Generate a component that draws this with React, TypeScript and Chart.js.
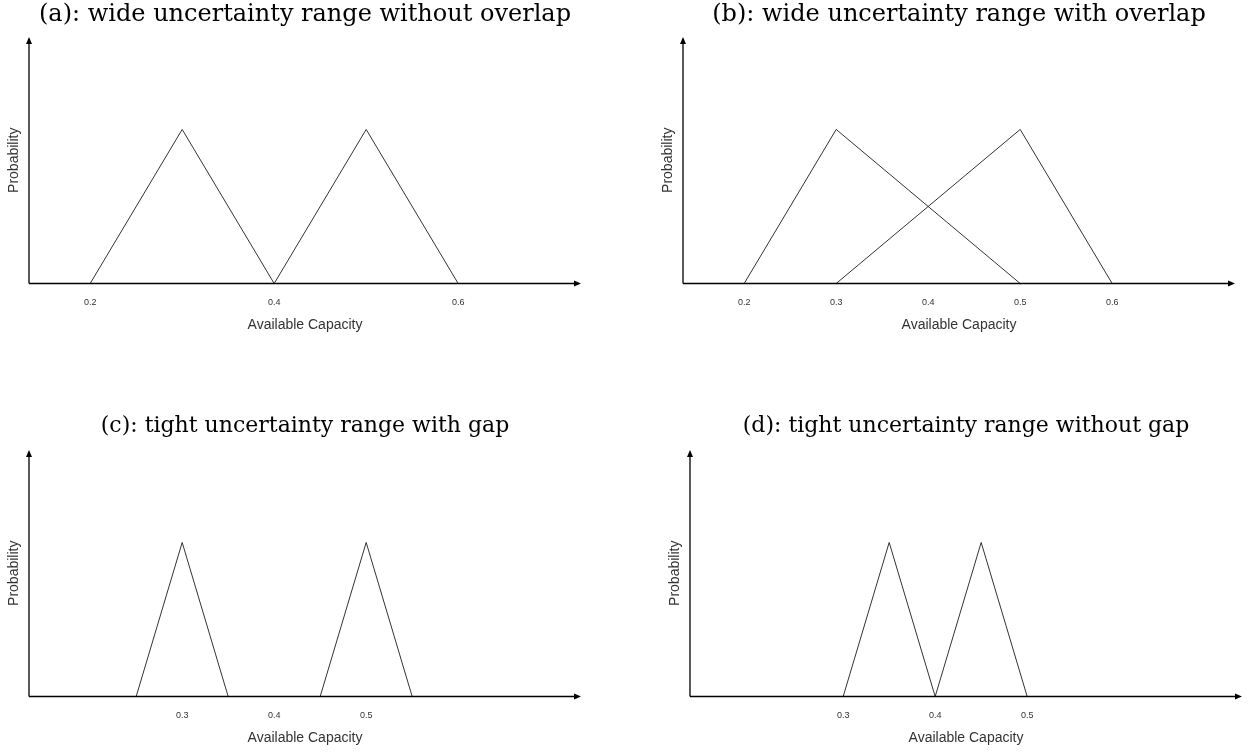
import React, { useEffect, useRef } from "react";
import { Chart, registerables } from "chart.js";

Chart.register(...registerables);

// ---- data ----
const xMin = 0.1335;
const xMax = 0.7335;
const yMax = 1.6;

const titleA = "(a): wide uncertainty range without overlap";
const titleB = "(b): wide uncertainty range with overlap";
const titleC = "(c): tight uncertainty range with gap";
const titleD = "(d): tight uncertainty range without gap";

const aFirstX = [0.2, 0.3, 0.4];
const aSecondX = [0.4, 0.5, 0.6];
const bFirstX = [0.2, 0.3, 0.5];
const bSecondX = [0.3, 0.5, 0.6];
const cFirstX = [0.25, 0.3, 0.35];
const cSecondX = [0.45, 0.5, 0.55];
const dFirstX = [0.3, 0.35, 0.4];
const dSecondX = [0.4, 0.45, 0.5];
const triangleY = [0, 1, 0];

const aTicks = [0.2, 0.4, 0.6];
const bTicks = [0.2, 0.3, 0.4, 0.5, 0.6];
const cTicks = [0.3, 0.4, 0.5];
const dTicks = [0.3, 0.4, 0.5];

const xLabel = "Available Capacity";
const yLabel = "Probability";

// ---- layout ----
const CW = 600;
const CH = 340;
const Y_AXIS_W = 29;
const PLOT_W = 552;
const X_AXIS_H = 56.5;
const PLOT_TOP = 37;

const SANS = "'Liberation Sans', Arial, sans-serif";

const arrowAxes = {
  id: "arrowAxes",
  afterDatasetsDraw(chart: any) {
    const { ctx, chartArea } = chart;
    const y0 = chart.scales.y.getPixelForValue(0);
    const left = chartArea.left;
    const right = chartArea.right;
    const top = chartArea.top;
    ctx.save();
    ctx.strokeStyle = "#000";
    ctx.fillStyle = "#000";
    ctx.lineWidth = 1.3;
    ctx.beginPath();
    ctx.moveTo(left, y0);
    ctx.lineTo(right - 4, y0);
    ctx.moveTo(left, y0);
    ctx.lineTo(left, top + 4);
    ctx.stroke();
    ctx.beginPath();
    ctx.moveTo(right, y0);
    ctx.lineTo(right - 7, y0 - 3);
    ctx.lineTo(right - 7, y0 + 3);
    ctx.closePath();
    ctx.fill();
    ctx.beginPath();
    ctx.moveTo(left, top);
    ctx.lineTo(left - 3, top + 7);
    ctx.lineTo(left + 3, top + 7);
    ctx.closePath();
    ctx.fill();
    ctx.restore();
  },
};

type PanelProps = {
  title: string;
  titleSize: number;
  firstX: number[];
  secondX: number[];
  ticks: number[];
  left: number;
  top: number;
};

function Panel({ title, titleSize, firstX, secondX, ticks, left, top }: PanelProps) {
  const ref = useRef<HTMLCanvasElement | null>(null);
  useEffect(() => {
    if (!ref.current) return;
    const mk = (xs: number[]) => xs.map((x, i) => ({ x, y: triangleY[i] }));
    const ds = (xs: number[]) => ({
      data: mk(xs),
      borderColor: "#333",
      borderWidth: 1,
      pointRadius: 0,
      tension: 0,
      fill: false,
      clip: false as any,
    });
    const titleLine = titleSize * 1.2;
    const chart = new Chart(ref.current, {
      type: "line",
      data: { datasets: [ds(firstX), ds(secondX)] },
      plugins: [arrowAxes],
      options: {
        responsive: false,
        animation: false,
        events: [],
        layout: {
          padding: { left: 0, right: CW - Y_AXIS_W - PLOT_W, top: 0, bottom: 0 },
        },
        plugins: {
          legend: { display: false },
          tooltip: { enabled: false },
          title: {
            display: true,
            text: title,
            fullSize: false,
            color: "#000",
            font: { family: "'DejaVu Serif', serif", size: titleSize, weight: "normal", lineHeight: 1.2 },
            padding: { top: 0, bottom: PLOT_TOP - titleLine },
          },
        },
        scales: {
          x: {
            type: "linear",
            min: xMin,
            max: xMax,
            grid: { display: false },
            border: { display: false },
            afterBuildTicks: (scale: any) => {
              scale.ticks = ticks.map((v) => ({ value: v }));
            },
            afterFit: (scale: any) => {
              scale.height = X_AXIS_H;
            },
            ticks: {
              autoSkip: false,
              maxRotation: 0,
              padding: 6,
              color: "#333",
              font: { family: SANS, size: 9 },
              callback: (v: any) => String(v),
            },
            title: {
              display: true,
              text: xLabel,
              color: "#333",
              font: { family: SANS, size: 14 },
              padding: { top: 0, bottom: 6 },
            },
          },
          y: {
            min: 0,
            max: yMax,
            grid: { display: false },
            border: { display: false },
            ticks: { display: false },
            afterFit: (scale: any) => {
              scale.width = Y_AXIS_W;
            },
            title: {
              display: true,
              text: yLabel,
              color: "#333",
              font: { family: SANS, size: 14 },
              padding: { top: 5.5, bottom: 0 },
            },
          },
        },
      } as any,
    });
    return () => chart.destroy();
  }, [title, titleSize, firstX, secondX, ticks]);
  return (
    <canvas
      ref={ref}
      width={CW}
      height={CH}
      style={{ position: "absolute", left, top, width: CW, height: CH }}
    />
  );
}

export default function App() {
  return (
    <div
      style={{
        position: "absolute",
        left: 0,
        top: 0,
        width: 1258,
        height: 753,
        background: "#fff",
        overflow: "hidden",
      }}
    >
      <Panel title={titleA} titleSize={24} firstX={aFirstX} secondX={aSecondX} ticks={aTicks} left={0} top={0} />
      <Panel title={titleB} titleSize={24} firstX={bFirstX} secondX={bSecondX} ticks={bTicks} left={654} top={0} />
      <Panel title={titleC} titleSize={22} firstX={cFirstX} secondX={cSecondX} ticks={cTicks} left={0} top={413} />
      <Panel title={titleD} titleSize={22} firstX={dFirstX} secondX={dSecondX} ticks={dTicks} left={661} top={413} />
    </div>
  );
}
